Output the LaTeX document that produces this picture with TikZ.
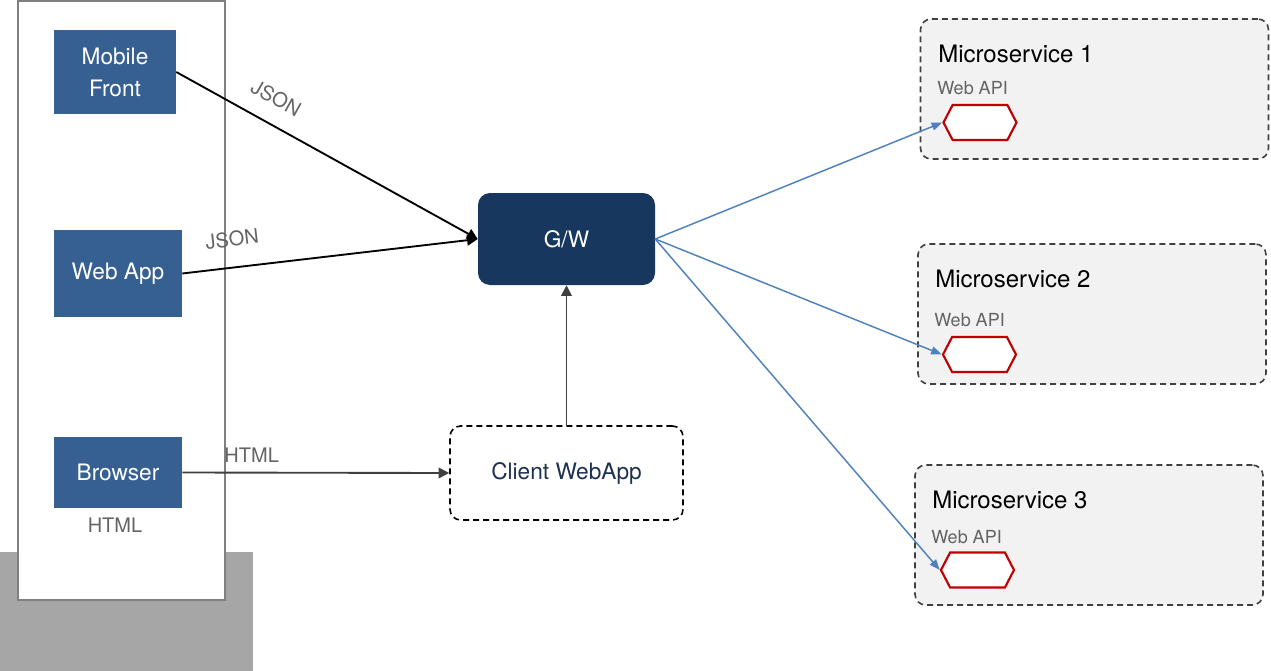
\documentclass[tikz,border=0pt]{standalone}
\usepackage{fontspec}
\setmainfont{TeX Gyre Heros}
\usepackage{tikz}
\usetikzlibrary{arrows.meta}
\usetikzlibrary{shapes.symbols}

\definecolor{frontblue}{RGB}{54,96,146}
\definecolor{gwnavy}{RGB}{23,55,94}
\definecolor{clienttext}{RGB}{30,48,80}
\definecolor{linkblue}{RGB}{79,129,189}
\definecolor{apired}{RGB}{192,0,0}
\definecolor{msfill}{RGB}{242,242,242}
\definecolor{labelgray}{RGB}{100,100,100}
\definecolor{darkline}{RGB}{64,64,64}

\tikzset{
    frontbox/.style={fill=frontblue, text=white, font=\fontsize{17}{24}\selectfont,
        align=center, inner sep=0pt},
    msbox/.style={draw=darkline, fill=msfill, line width=1.2pt,
        dash pattern=on 4.5pt off 3pt, rounded corners=8pt,
        minimum width=348*0.75pt, minimum height=140*0.75pt},
    apihex/.style={draw=apired, fill=white, line width=1.6pt, shape=signal,
        signal to=east and west, signal pointer angle=125, inner sep=0pt,
        minimum width=73*0.75pt, minimum height=35*0.75pt},
    lbl/.style={text=labelgray, font=\fontsize{15}{18}\selectfont, inner sep=1pt},
    jsonlink/.style={line width=1.4pt, -{Triangle[length=8pt,width=8pt]}},
    graylink/.style={draw=darkline, line width=1.4pt, -{Triangle[length=8pt,width=8pt]}},
    bluelink/.style={draw=linkblue, line width=1.1pt, -{Triangle[length=8pt,width=6pt]}}
}

\begin{document}
\begin{tikzpicture}[x=0.75pt, y=-0.75pt]
    \useasboundingbox (0,0) rectangle (1271,671);

    % device column
    \fill[black!35] (0,552) rectangle (253,671);
    \draw[black!50, fill=white, line width=1.5pt] (18,1) rectangle (225,600);

    \node[frontbox, minimum width=122*0.75pt, minimum height=84*0.75pt] (mobile) at (115,72) {Mobile\\Front};
    \node[frontbox, minimum width=128*0.75pt, minimum height=87*0.75pt] (webapp) at (118,273.5) {Web App};
    \node[frontbox, minimum width=128*0.75pt, minimum height=71*0.75pt] (browser) at (118,472.5) {Browser};
    \node[lbl] (browserhtml) at (115,525) {HTML};

    % gateway and client
    \node[fill=gwnavy, text=white, rounded corners=9pt, inner sep=0pt,
          minimum width=177*0.75pt, minimum height=92*0.75pt,
          font=\fontsize{17}{21}\selectfont] (gw) at (566.5,239) {G/W};
    \node[draw=black, line width=1.2pt, dash pattern=on 4.5pt off 3pt, rounded corners=8pt,
          minimum width=233*0.75pt, minimum height=94*0.75pt, text=clienttext,
          font=\fontsize{17}{21}\selectfont] (client) at (566.5,473) {Client WebApp};

    % microservices
    \foreach \i/\x/\y/\tx/\ty/\ly/\hx/\hy in {1/1094.5/89/938/54/88/980/122.5,
            2/1092/314/935/279/320/979.5/354.5, 3/1089/535/932/500/537/977.5/570} {
        \node[msbox] (ms\i) at (\x,\y) {};
        \node[anchor=west, font=\fontsize{18}{22}\selectfont, inner sep=0pt]
            (mstitle\i) at (\tx,\ty) {Microservice \i};
        \node[anchor=west, text=labelgray, font=\fontsize{13.5}{16}\selectfont, inner sep=0pt]
            (mslabel\i) at (\tx-1,\ly) {Web API};
        \node[apihex] (api\i) at (\hx,\hy) {};
    }

    % links
    \draw[jsonlink] (mobile.east) -- node[lbl, pos=0.29, sloped, above=12pt] {JSON} (gw.west);
    \draw[jsonlink] (webapp.east) -- node[lbl, pos=0.18, sloped, above=14pt] {JSON} (gw.west);
    \draw[graylink] (browser.east) -- node[lbl, pos=0.26, above=6pt] {HTML} (client.west);
    \draw[graylink] (client.north) -- (gw.south);
    \foreach \i in {1,2,3}
        \draw[bluelink] (gw.east) -- (api\i.west);
\end{tikzpicture}
\end{document}
